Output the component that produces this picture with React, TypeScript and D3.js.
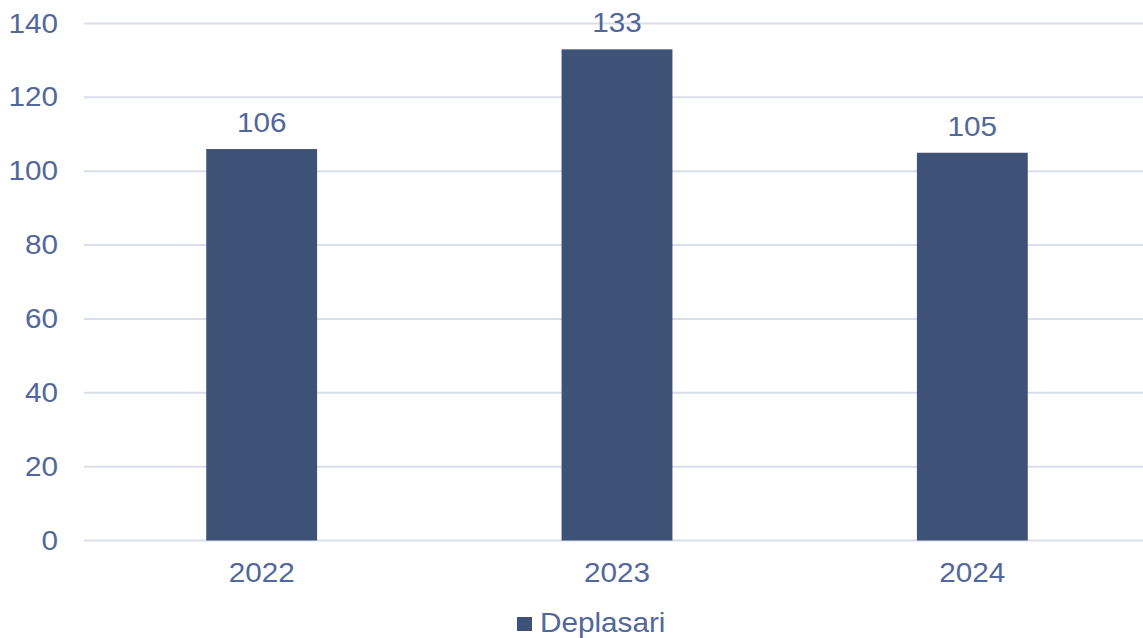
import React from "react";
import * as d3 from "d3";

const categories = ["2022", "2023", "2024"];
const values = [106, 133, 105];
const yTicks = [0, 20, 40, 60, 80, 100, 120, 140];
const seriesName = "Deplasari";

const W = 1143;
const H = 638;
const BAR = "#3E5277";
const TEXT = "#52679A";
const GRID = "#D9DEEA";
const FONT = "'Liberation Sans', Arial, sans-serif";

function T({ x, y, anchor, children }: { x: number; y: number; anchor: string; children: React.ReactNode }) {
  return (
    <text transform={`translate(${x},${y}) scale(1.1,1)`} textAnchor={anchor} fontFamily={FONT} fontSize={27} fill={TEXT}>
      {children}
    </text>
  );
}

export default function App() {
  const x = d3.scaleBand<string>().domain(categories).range([84, 1150]).paddingInner(0.688).paddingOuter(0.344);
  const y = d3.scaleLinear().domain([0, 140]).range([540.5, 23.5]);
  return (
    <svg width={W} height={H} style={{ position: "absolute", left: 0, top: 0 }}>
      <rect width={W} height={H} fill="#fff" />
      {yTicks.map((t) => (
        <g key={t}>
          <line x1={84} x2={W} y1={y(t)} y2={y(t)} stroke={GRID} strokeWidth={2} />
          <T x={58} y={y(t) + 9} anchor="end">{t}</T>
        </g>
      ))}
      {categories.map((c, i) => (
        <g key={c}>
          <rect x={x(c)} y={y(values[i])} width={x.bandwidth()} height={y(0) - y(values[i])} fill={BAR} />
          <T x={(x(c) as number) + x.bandwidth() / 2} y={y(values[i]) - 17} anchor="middle">{values[i]}</T>
          <T x={(x(c) as number) + x.bandwidth() / 2} y={582} anchor="middle">{c}</T>
        </g>
      ))}
      <rect x={517} y={617} width={15} height={14} fill={BAR} />
      <T x={540} y={632} anchor="start">{seriesName}</T>
    </svg>
  );
}
